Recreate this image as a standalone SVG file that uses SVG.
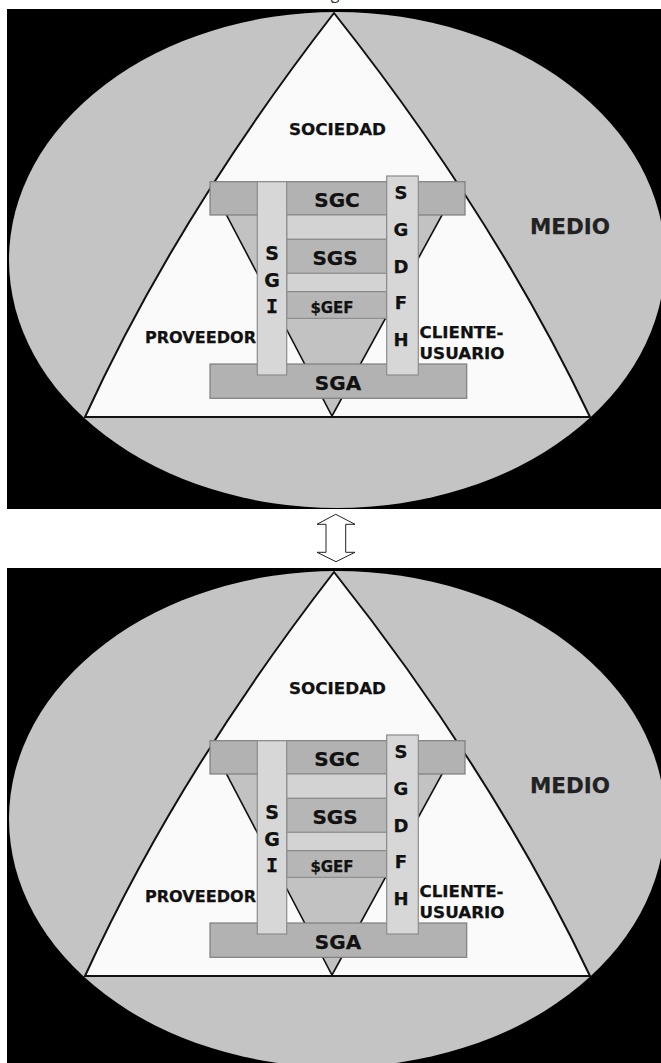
<svg xmlns="http://www.w3.org/2000/svg" width="661" height="1063" viewBox="0 0 661 1063">
  <style>
    .panel { fill: #000; }
    .medio-bg { fill: #c4c4c4; }
    .tri { fill: #fafafa; stroke: #111; stroke-width: 2; stroke-linejoin: miter; }
    .inv { fill: #c2c2c2; stroke: #111; stroke-width: 1.6; }
    .bar { fill: #b2b2b2; stroke: #7e7e7e; stroke-width: 1.2; }
    .rung { fill: #b6b6b6; stroke: #858585; stroke-width: 1; }
    .strip { fill: #d3d3d3; stroke: #8a8a8a; stroke-width: 1; }
    .col { fill: #d7d7d7; stroke: #8c8c8c; stroke-width: 1.2; }
    text { font-family: "DejaVu Sans", Verdana, sans-serif; font-weight: bold; fill: #111; stroke: #111; stroke-width: 0.25; }
    .lbl { font-size: 15px; }
    .big { font-size: 20px; text-anchor: middle; }
    .vert { font-size: 18px; text-anchor: middle; }
    .vi { font-size: 19px; text-anchor: middle; }
    .serif-i { font-family: "DejaVu Sans Mono", monospace; font-size: 20px; text-anchor: middle; }
    .medio { font-size: 22px; fill: #222; stroke: #222; }
    .arrow { fill: #fff; stroke: #222; stroke-width: 1; }
  </style>

  <rect x="0" y="0" width="661" height="1063" fill="#fff"/>
  <text x="335" y="-1" style="font-family: 'Open Sans', sans-serif; font-weight: normal; font-size: 16px; text-anchor: middle; fill: #333; stroke: none;">g</text>

  <!-- upper model -->
  <g id="model-upper">
    <rect class="panel" x="7" y="9" width="654" height="500"/>
    <g id="medio-upper">
      <ellipse class="medio-bg" cx="337" cy="260" rx="328" ry="248"/>
      <text class="medio" x="530" y="233.5" textLength="80" lengthAdjust="spacingAndGlyphs">MEDIO</text>
    </g>
    <g id="sociedad-upper">
      <!-- sides bow slightly outward -->
      <path class="tri" d="M334,13 Q494,215 590,417 L85,417 Q177.5,215 334,13 Z"/>
      <text class="lbl" x="289" y="134.5" textLength="97" lengthAdjust="spacingAndGlyphs">SOCIEDAD</text>
    </g>
    <g id="proveedor-upper">
      <text class="lbl" x="145" y="343" textLength="111" lengthAdjust="spacingAndGlyphs">PROVEEDOR</text>
    </g>
    <g id="cliente-upper">
      <text class="lbl" x="419.5" y="338" textLength="84" lengthAdjust="spacingAndGlyphs">CLIENTE-</text>
      <text class="lbl" x="419.5" y="358.5" textLength="85" lengthAdjust="spacingAndGlyphs">USUARIO</text>
    </g>
    <polygon id="core-upper" class="inv" points="216,195 453,195 332,416"/>
    <g id="sgc-upper">
      <rect class="bar" x="210" y="181.7" width="255" height="33.3"/>
      <text class="big" x="337" y="206.7">SGC</text>
    </g>
    <g id="sgs-upper">
      <rect class="strip" x="286.7" y="215" width="100" height="24.3"/>
      <rect class="rung" x="286.7" y="239.3" width="100" height="34"/>
      <text class="big" x="335" y="265">SGS</text>
    </g>
    <g id="sgef-upper">
      <rect class="strip" x="286.7" y="273.3" width="100" height="18.4"/>
      <rect class="rung" x="286.7" y="291.7" width="100" height="26.6"/>
      <text x="332" y="312.5" style="font-size: 15px; text-anchor: middle;">$GEF</text>
    </g>
    <g id="sga-upper">
      <rect class="bar" x="210" y="364" width="256.7" height="34.3"/>
      <text class="big" x="338" y="389.5">SGA</text>
    </g>
    <g id="sgi-upper">
      <rect class="col" x="257.3" y="181.7" width="29.4" height="193.3"/>
      <text class="vi" x="272" y="260">S</text>
      <text class="vi" x="272" y="286.7">G</text>
      <text class="serif-i" x="272" y="313.3">I</text>
    </g>
    <g id="sgdfh-upper">
      <rect class="col" x="386.7" y="176" width="31.6" height="199"/>
      <text class="vert" x="401" y="199.3">S</text>
      <text class="vert" x="401" y="236">G</text>
      <text class="vert" x="401" y="272.7">D</text>
      <text class="vert" x="401" y="309">F</text>
      <text class="vert" x="401" y="345.7">H</text>
    </g>
  </g>

  <!-- two-way link between the two models -->
  <g id="connectors">
    <path class="arrow" d="M335.7,514.3 L355,524.3 L345.7,524.3 L345.7,552.3 L355,552.3 L336,561.7 L317,552.3 L326,552.3 L326,524.3 L317,524.3 Z"/>
  </g>

  <!-- lower model -->
  <g id="model-lower" transform="translate(0,559)">
    <rect class="panel" x="7" y="9" width="654" height="500"/>
    <g id="medio-lower">
      <ellipse class="medio-bg" cx="337" cy="260" rx="328" ry="248"/>
      <text class="medio" x="530" y="233.5" textLength="80" lengthAdjust="spacingAndGlyphs">MEDIO</text>
    </g>
    <g id="sociedad-lower">
      <path class="tri" d="M334,13 Q494,215 590,417 L85,417 Q177.5,215 334,13 Z"/>
      <text class="lbl" x="289" y="134.5" textLength="97" lengthAdjust="spacingAndGlyphs">SOCIEDAD</text>
    </g>
    <g id="proveedor-lower">
      <text class="lbl" x="145" y="343" textLength="111" lengthAdjust="spacingAndGlyphs">PROVEEDOR</text>
    </g>
    <g id="cliente-lower">
      <text class="lbl" x="419.5" y="338" textLength="84" lengthAdjust="spacingAndGlyphs">CLIENTE-</text>
      <text class="lbl" x="419.5" y="358.5" textLength="85" lengthAdjust="spacingAndGlyphs">USUARIO</text>
    </g>
    <polygon id="core-lower" class="inv" points="216,195 453,195 332,416"/>
    <g id="sgc-lower">
      <rect class="bar" x="210" y="181.7" width="255" height="33.3"/>
      <text class="big" x="337" y="206.7">SGC</text>
    </g>
    <g id="sgs-lower">
      <rect class="strip" x="286.7" y="215" width="100" height="24.3"/>
      <rect class="rung" x="286.7" y="239.3" width="100" height="34"/>
      <text class="big" x="335" y="265">SGS</text>
    </g>
    <g id="sgef-lower">
      <rect class="strip" x="286.7" y="273.3" width="100" height="18.4"/>
      <rect class="rung" x="286.7" y="291.7" width="100" height="26.6"/>
      <text x="332" y="312.5" style="font-size: 15px; text-anchor: middle;">$GEF</text>
    </g>
    <g id="sga-lower">
      <rect class="bar" x="210" y="364" width="256.7" height="34.3"/>
      <text class="big" x="338" y="389.5">SGA</text>
    </g>
    <g id="sgi-lower">
      <rect class="col" x="257.3" y="181.7" width="29.4" height="193.3"/>
      <text class="vi" x="272" y="260">S</text>
      <text class="vi" x="272" y="286.7">G</text>
      <text class="serif-i" x="272" y="313.3">I</text>
    </g>
    <g id="sgdfh-lower">
      <rect class="col" x="386.7" y="176" width="31.6" height="199"/>
      <text class="vert" x="401" y="199.3">S</text>
      <text class="vert" x="401" y="236">G</text>
      <text class="vert" x="401" y="272.7">D</text>
      <text class="vert" x="401" y="309">F</text>
      <text class="vert" x="401" y="345.7">H</text>
    </g>
  </g>
</svg>
